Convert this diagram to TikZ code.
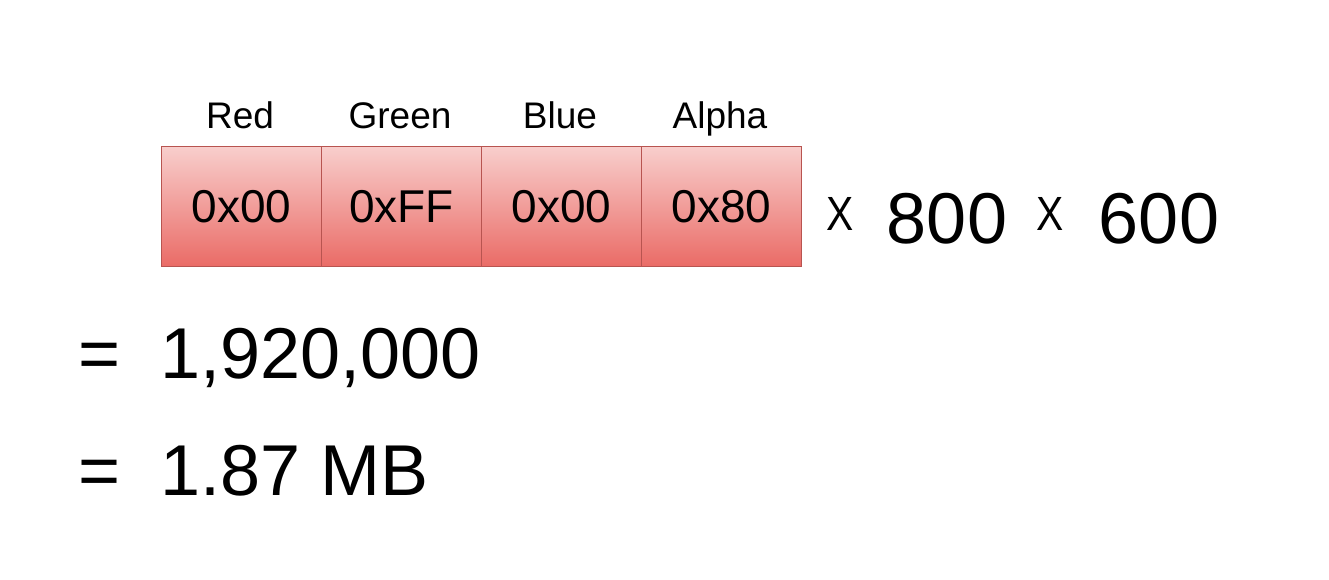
\documentclass[tikz,border=0pt]{standalone}
\usepackage{fontspec}
\setmainfont{Liberation Sans}
\usetikzlibrary{positioning}
\definecolor{boxtop}{HTML}{F8CECC}
\definecolor{boxbot}{HTML}{EA6B66}
\definecolor{boxline}{HTML}{B85450}
\tikzset{
  cell/.style={draw=boxline, line width=1.3pt, top color=boxtop, bottom color=boxbot,
    minimum width=160pt, minimum height=120pt, inner sep=0pt, anchor=north west,
    font=\fontsize{46}{46}\selectfont},
  lbl/.style={inner sep=0pt, font=\fontsize{37}{37}\selectfont},
  big/.style={inner sep=0pt, font=\fontsize{72}{72}\selectfont},
  times/.style={inner sep=0pt, font=\fontsize{48}{48}\selectfont}
}
\begin{document}
\begin{tikzpicture}[x=1pt,y=-1pt]
\useasboundingbox (0,0) rectangle (1329,580);
\node[cell] (r) at (161,146) {0x00};
\node[cell] (g) at (321,146) {0xFF};
\node[cell] (b) at (481,146) {0x00};
\node[cell] (a) at (641,146) {0x80};
\node[lbl, anchor=base] (lr) at (240,129) {Red};
\node[lbl, anchor=base] (lg) at (400,129) {Green};
\node[lbl, anchor=base] (lb) at (560,129) {Blue};
\node[lbl, anchor=base] (la) at (720,129) {Alpha};
\node[times, anchor=base] (x1) at (840,230) {\scalebox{0.85}[1]{X}};
\node[big, anchor=base] (n800) at (947,243) {800};
\node[times, anchor=base] (x2) at (1050,230) {\scalebox{0.85}[1]{X}};
\node[big, anchor=base] (n600) at (1159,243) {600};
\node[big, anchor=base] (eq1) at (100,378) {=};
\node[big, anchor=base] (eq2) at (100,495) {=};
\node[big, anchor=base west] (v1) at (160,378) {1,920,000};
\node[big, anchor=base west] (v2) at (160,495) {1.87 MB};
\end{tikzpicture}
\end{document}
